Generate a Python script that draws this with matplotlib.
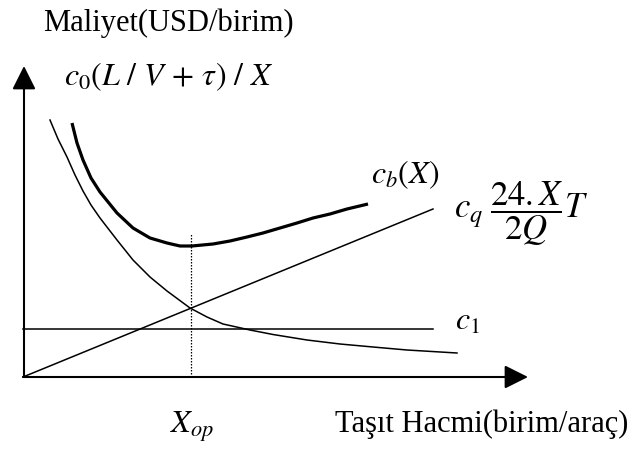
import matplotlib
matplotlib.use("Agg")
import matplotlib.pyplot as plt

plt.rcParams['font.family'] = ['Liberation Serif', 'DejaVu Serif']
plt.rcParams['mathtext.fontset'] = 'stix'

total_x = [49, 54, 60, 68, 77, 94, 110, 127, 144, 157, 169, 190, 207, 224, 240, 257, 274, 290, 307, 324, 345]
total_y = [254, 234, 217, 199, 185, 164, 149, 139, 134, 131, 131, 133, 136, 140, 144, 149, 154, 159, 163, 168, 173]

fixed_x = [27, 35, 44, 52, 60, 68, 77, 94, 110, 127, 144, 167, 184, 200, 227, 250, 284, 317, 350, 384, 434]
fixed_y = [257, 238, 220, 202, 186, 172, 159, 137, 117, 100, 86, 69, 60, 53, 47, 42.5, 37, 33, 30, 27, 24]

stock_x = [0, 410]
stock_y = [0, 168]

c1_x = [0, 410]
c1_y = [48, 48]

x_opt = 168
y_opt_top = 144

fig = plt.figure(figsize=(6.3, 4.57), dpi=100)
ax = fig.add_axes([0, 0, 1, 1])
ax.set_xlim(-23, 607)
ax.set_ylim(-80, 377)
ax.axis('off')

# axes with filled arrow heads
arrow = dict(arrowstyle='-|>,head_length=0.72,head_width=0.36', mutation_scale=20,
             lw=1.5, color='black', shrinkA=0, shrinkB=0)
ax.annotate('', xy=(505, 0), xytext=(0, 0), arrowprops=arrow)
ax.annotate('', xy=(1, 311), xytext=(1, 0), arrowprops=arrow)

ax.plot(total_x, total_y, color='black', lw=2.3, solid_capstyle='butt', solid_joinstyle='round')
ax.plot(fixed_x, fixed_y, color='black', lw=1.1, solid_joinstyle='round')
ax.plot(stock_x, stock_y, color='black', lw=1.1)
ax.plot(c1_x, c1_y, color='black', lw=1.1)
ax.plot([x_opt, x_opt], [0, y_opt_top], color='black', lw=0.9, ls=(0, (1.2, 1.2)))

ax.text(20, 354, 'Maliyet(USD/birim)', fontsize=22, va='center', ha='left')
ax.text(41, 300, r'$c_0(L\ /\ V\,+\,\tau)\ /\ X$', fontsize=23, va='center', ha='left')
ax.text(348, 202, r'$c_b(X)$', fontsize=23, va='center', ha='left')
ax.text(431, 163, r'$c_q\;\dfrac{24.X}{2Q}T$', fontsize=25, va='center', ha='left')
ax.text(432, 55, r'$c_1$', fontsize=23, va='center', ha='left')
ax.text(147, -50, r'$X_{op}$', fontsize=23, va='center', ha='left')
ax.text(312, -47, 'Taşıt Hacmi(birim/araç)', fontsize=22, va='center', ha='left')

fig.savefig('out.png', dpi=100)
